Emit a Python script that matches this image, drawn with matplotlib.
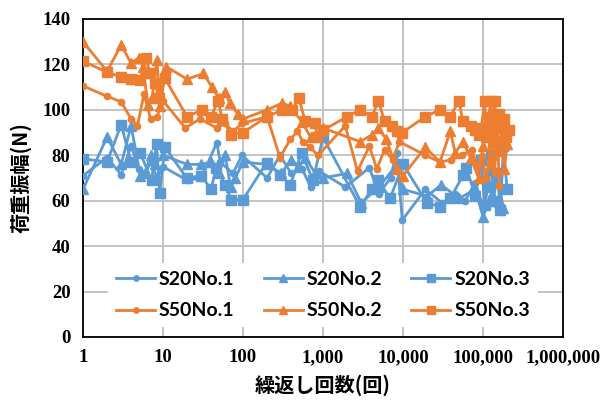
import matplotlib
matplotlib.use("Agg")
import matplotlib.pyplot as plt
from matplotlib.ticker import FuncFormatter, NullLocator

# 繰返し回数 / 荷重振幅 (読み取り値)
s20_1_n = [1, 2, 3, 4, 5, 6, 7, 8.5, 10, 20, 30, 47, 52, 75, 97, 200, 290, 400, 550, 700,
           900, 1900, 3800, 5000, 7000, 8300, 9800, 19000, 31000, 45000, 60000, 80000,
           100000, 115000, 130000, 150000, 170000]
s20_1_v = [71, 79, 71.5, 84, 74, 72, 77, 70, 75, 69, 70, 85.5, 77, 72, 80, 70, 80, 72, 74, 66,
           73, 66, 74.5, 63, 70, 81, 51.5, 65, 59, 63, 60, 68,
           57, 72, 62, 58, 55]

s20_2_n = [1, 2, 3, 4, 5.2, 6, 7, 8, 10, 20, 30, 40, 50, 60, 70, 80, 100, 200, 300, 400,
           500, 600, 800, 1000, 2000, 3000, 5000, 8000, 10000, 20000, 30000, 50000,
           80000, 100000, 120000, 150000, 180000]
s20_2_v = [65, 88, 76, 93, 71, 72, 80, 76, 80, 76, 76, 77, 72, 80, 66, 70, 77, 76, 72, 78,
           75, 79, 72, 70, 72, 59, 66, 75, 65, 62, 67, 61,
           65, 53, 60, 70, 57]

s20_3_n = [1, 2, 3, 4, 5.2, 7.2, 8.3, 9.1, 10.6, 19.8, 30, 40, 46, 60, 71, 100, 198, 290,
           390, 540, 750, 1000, 2900, 4100, 4900, 6900, 10000, 20000, 29000, 39000, 57000,
           62000, 80000, 95000, 105000, 115000, 125000, 135000, 150000, 165000, 180000, 200000]
s20_3_v = [78.5, 77, 93.5, 77, 81, 69, 85, 63.5, 83.5, 70, 71, 65, 74.5, 67, 60.5, 60.5, 76.8, 71.5,
           67, 81, 69, 88, 57.4, 65, 69, 61, 76, 59, 57.4, 61, 71.5,
           74.6, 62, 78, 58, 66, 80, 60, 72, 56, 84, 65]

s50_1_n = [1, 2, 3, 4, 4.8, 5.8, 7, 8.4, 10, 19, 29, 47, 60, 75, 97, 200, 290, 390, 480, 560,
           690, 870, 1900, 2700, 3800, 4700, 5900, 7400, 9000, 19000, 29000, 40000, 54000,
           72000, 85000, 97000, 110000, 125000, 140000, 150000, 160000]
s50_1_v = [110.5, 106, 103.5, 96, 93, 107, 96, 97, 104, 92, 96, 92, 94, 90.5, 94, 97, 79, 87, 90.5, 86,
           83.5, 80, 93, 73, 84, 74, 82.5, 78, 86, 80, 77, 78, 80,
           82.5, 75, 79.5, 70, 84, 72, 95, 66.5]

s50_2_n = [1, 2, 3, 4, 5, 5.6, 6.5, 7.3, 8.4, 9.2, 11, 20, 32, 41, 50, 60, 68, 87, 100, 200,
           310, 390, 550, 700, 1000, 2900, 4100, 4900, 6200, 8300, 10000, 19000, 29000, 39000,
           45000, 56000, 70000, 88000, 100000, 115000, 125000, 140000, 155000, 170000, 185000, 200000]
s50_2_v = [130, 117, 128.5, 120.5, 123, 119, 102, 105, 122, 101.5, 119, 113.5, 116, 110, 105, 108, 103, 98, 96, 100,
           103, 101.5, 94.5, 88, 92, 86, 89, 92, 87, 74, 71, 83.5, 77, 90.5,
           81, 86, 79, 70, 84, 93, 76, 96, 82, 88, 74, 85]

s50_3_n = [1, 2, 3, 4, 5.2, 6.1, 6.9, 8, 8.8, 10.5, 20, 31, 40, 49, 55, 71, 100, 200, 310, 410,
           500, 600, 800, 840, 1000, 2000, 2900, 4100, 4900, 5900, 7200, 8300, 9800, 19000,
           29000, 39000, 50000, 56000, 70000, 80000, 90000, 95000, 105000, 110000, 118000,
           125000, 130000, 140000, 150000, 160000, 170000, 185000, 195000, 210000]
s50_3_v = [121.5, 116.5, 114.5, 113.5, 113, 123, 116, 112, 105, 114, 97, 100, 97, 104, 96, 89, 90, 97, 100, 100,
           105, 95, 94, 88, 91, 97, 100, 97, 104, 95, 93, 90.5, 90, 97,
           100, 97, 104, 95, 93, 91, 89, 92, 104, 88, 97,
           104, 90, 104, 86, 98, 92, 96, 88, 91]

ticks_x = [1, 10, 100, 1000, 10000, 100000, 1000000]

BLUE = "#5B9BD5"
ORANGE = "#ED7D31"

fig = plt.figure(figsize=(6.03, 4.03), dpi=100)
ax = fig.add_axes([0.1376, 0.1638, 0.7961, 0.7891])

series = [
    (s20_1_n, s20_1_v, BLUE, "o", 4.5, "S20No.1"),
    (s20_2_n, s20_2_v, BLUE, "^", 7, "S20No.2"),
    (s20_3_n, s20_3_v, BLUE, "s", 6.5, "S20No.3"),
    (s50_1_n, s50_1_v, ORANGE, "o", 4.5, "S50No.1"),
    (s50_2_n, s50_2_v, ORANGE, "^", 7, "S50No.2"),
    (s50_3_n, s50_3_v, ORANGE, "s", 6.5, "S50No.3"),
]
for n, v, c, m, ms, lab in series:
    ax.plot(n, v, color=c, marker=m, markersize=ms, linewidth=2, label=lab, zorder=3)

ax.set_xscale("log")
ax.set_xlim(1, 1e6)
ax.set_ylim(0, 140)
ax.set_xticks(ticks_x)
ax.xaxis.set_minor_locator(NullLocator())
ax.xaxis.set_major_formatter(FuncFormatter(lambda x, p: f"{int(round(x)):,}"))
ax.set_yticks(range(0, 141, 20))
ax.grid(True, color="#BFBFBF", linewidth=1.3, zorder=0)
ax.set_axisbelow(True)
ax.tick_params(length=0, pad=9)
for sp in ax.spines.values():
    sp.set_color("black")
    sp.set_linewidth(1.3)

for lb in ax.get_xticklabels() + ax.get_yticklabels():
    lb.set_family("Liberation Serif")
    lb.set_fontweight("bold")
    lb.set_fontsize(13.5)

jp = ["Noto Sans CJK JP", "DejaVu Sans"]
ax.set_xlabel("繰返し回数(回)", family=jp, fontweight="bold", fontsize=14.5, labelpad=6)
ax.set_ylabel("荷重振幅(N)", family=jp, fontweight="bold", fontsize=14.5, labelpad=8)

# 凡例は行方向に並べる (matplotlibは列方向に埋めるので並べ替え)
handles, labels = ax.get_legend_handles_labels()
order = [0, 3, 1, 4, 2, 5]
leg = ax.legend([handles[i] for i in order], [labels[i] for i in order],
                loc="lower center", bbox_to_anchor=(0.5, 0.0), ncol=3, frameon=True,
                framealpha=1, edgecolor="none", fancybox=False,
                prop={"family": "Lato", "weight": "bold", "size": 14},
                handlelength=2.0, handletextpad=0.2, columnspacing=1.5, labelspacing=0.75,
                borderpad=0.4, markerscale=0.85)

fig.savefig("out.png", dpi=100)
